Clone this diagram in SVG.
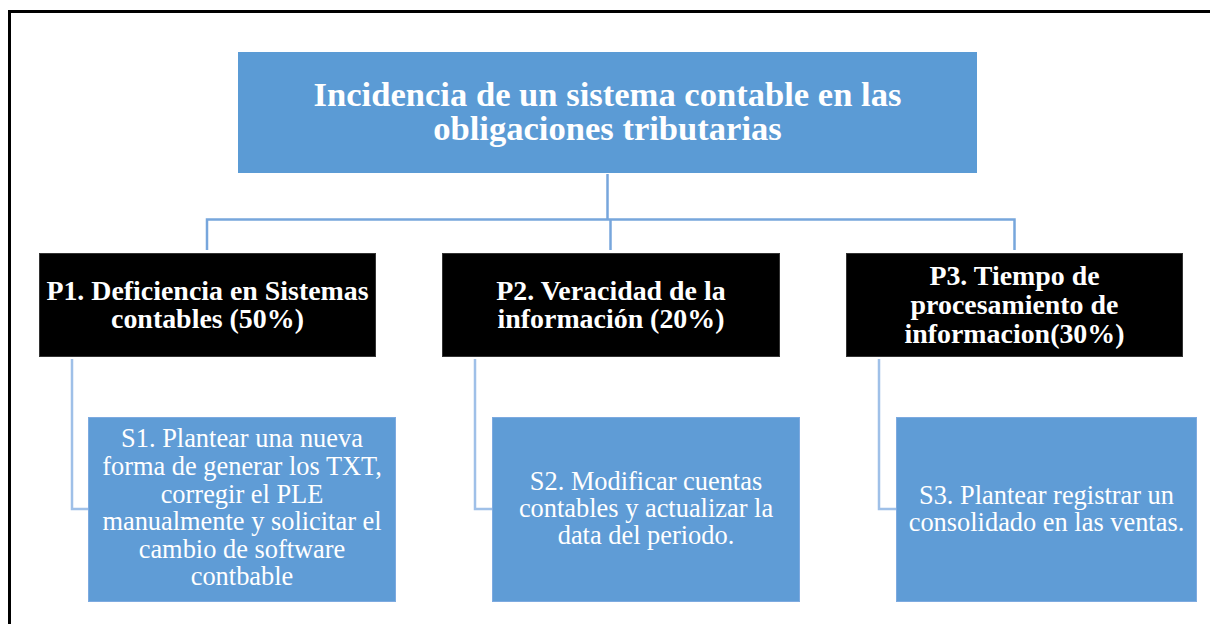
<svg xmlns="http://www.w3.org/2000/svg" width="1210" height="624" viewBox="0 0 1210 624">
<style>
.title{font-family:"Liberation Serif","Times New Roman",serif;font-weight:bold;font-size:34.6px;fill:#fff;text-anchor:middle}
.p{font-family:"Liberation Serif","Times New Roman",serif;font-weight:bold;font-size:27.9px;fill:#fff;text-anchor:middle}
.s{font-family:"Liberation Serif","Times New Roman",serif;font-size:26.4px;fill:#fff;text-anchor:middle}
.blue{fill:#5B9BD5}
.sbox{fill:#5F9CD6;stroke:#7DAAE0;stroke-width:1}
.pbox{fill:#000;stroke:#333;stroke-width:1}
.c{fill:none;stroke:#77A6DC;stroke-width:2.5}
.cs{fill:none;stroke:#9FC0E8;stroke-width:2.5}
</style>
<rect x="0" y="0" width="1210" height="624" fill="#fff"/>
<rect x="9.5" y="11.5" width="1220" height="700" fill="none" stroke="#000" stroke-width="3"/>
<g id="connectors">
<path class="c" d="M607.5 174 V219.5"/>
<path class="c" d="M207 250 V219.5 H1014.5 V250"/>
<path class="c" d="M610.5 219.5 V250"/>
<path class="cs" d="M72 359 V509 H88"/>
<path class="cs" d="M475 359 V509 H492"/>
<path class="cs" d="M879 359 V509 H896"/>
</g>
<g id="root">
<rect class="blue" x="238" y="52" width="739" height="121"/>
<text class="title" x="607.5" y="106">Incidencia de un sistema contable en las</text>
<text class="title" x="607.5" y="140">obligaciones tributarias</text>
</g>
<g id="p1">
<rect class="pbox" x="39.5" y="253.5" width="336" height="103"/>
<text class="p" x="207.5" y="300">P1. Deficiencia en Sistemas</text>
<text class="p" x="207.5" y="328">contables (50%)</text>
</g>
<g id="p2">
<rect class="pbox" x="442.5" y="253.5" width="337" height="103"/>
<text class="p" x="611" y="300">P2. Veracidad de la</text>
<text class="p" x="611" y="328">información (20%)</text>
</g>
<g id="p3">
<rect class="pbox" x="846.5" y="253.5" width="336" height="103"/>
<text class="p" x="1014.5" y="285">P3. Tiempo de</text>
<text class="p" x="1014.5" y="314">procesamiento de</text>
<text class="p" x="1014.5" y="343">informacion(30%)</text>
</g>
<g id="s1">
<rect class="sbox" x="88.5" y="417.5" width="307" height="184"/>
<text class="s" x="242" y="447">S1. Plantear una nueva</text>
<text class="s" x="242" y="475">forma de generar los TXT,</text>
<text class="s" x="242" y="503">corregir el PLE</text>
<text class="s" x="242" y="530">manualmente y solicitar el</text>
<text class="s" x="242" y="558">cambio de software</text>
<text class="s" x="242" y="585">contbable</text>
</g>
<g id="s2">
<rect class="sbox" x="492.5" y="417.5" width="307" height="184"/>
<text class="s" x="646" y="490">S2. Modificar cuentas</text>
<text class="s" x="646" y="517">contables y actualizar la</text>
<text class="s" x="646" y="544">data del periodo.</text>
</g>
<g id="s3">
<rect class="sbox" x="896.5" y="417.5" width="300" height="184"/>
<text class="s" x="1046.5" y="504">S3. Plantear registrar un</text>
<text class="s" x="1046.5" y="531">consolidado en las ventas.</text>
</g>
</svg>
